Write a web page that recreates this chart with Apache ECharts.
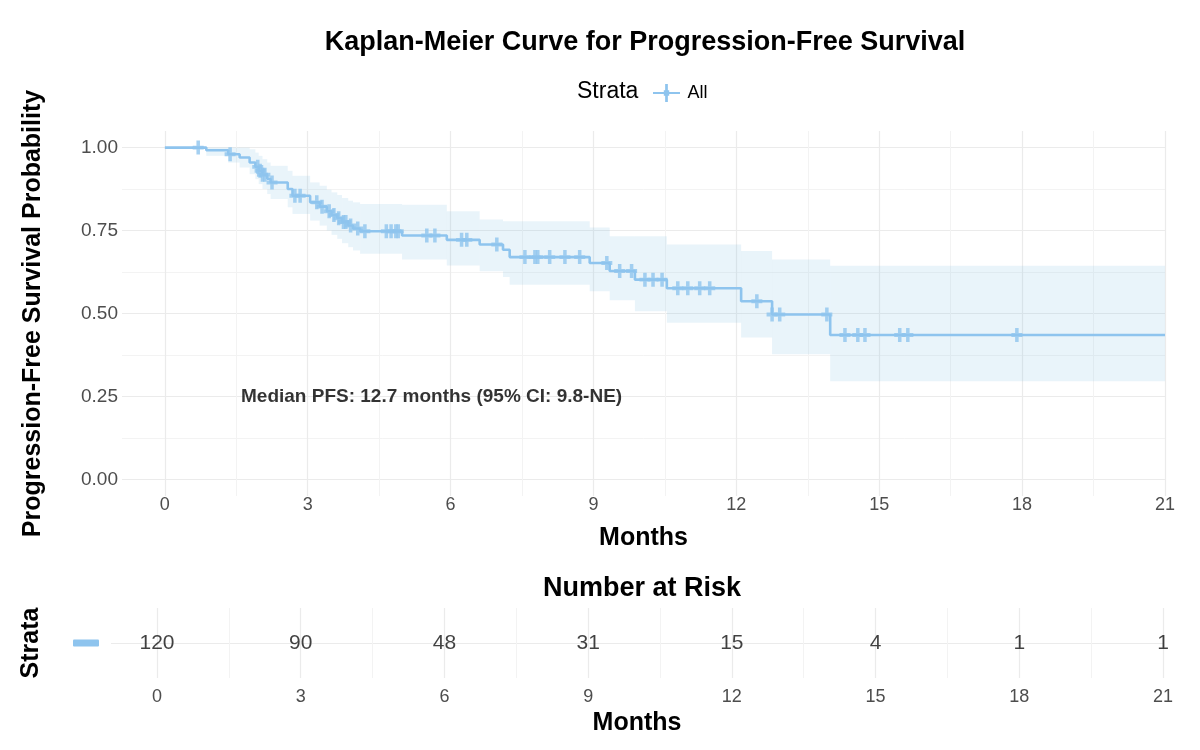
<!DOCTYPE html>
<html>
<head>
<meta charset="utf-8">
<title>Kaplan-Meier PFS</title>
<script src="https://cdn.jsdelivr.net/npm/echarts@6/dist/echarts.min.js"></script>
<style>
  html, body { margin: 0; padding: 0; background: #fff; }
  #chart { width: 1200px; height: 750px; }
</style>
</head>
<body>
<div id="chart"></div>
<script>
// KM step curve: time of each drop and the survival after it
const stepTimes = [0, 0.87, 1.33, 1.57, 1.78, 1.9, 1.97, 2.05, 2.15, 2.22, 2.58, 2.68, 3.05, 3.25, 3.4, 3.5, 3.62, 3.72, 3.85, 3.95, 4.1, 4.98, 5.92, 6.61, 7.1, 7.24, 8.92, 9.34, 9.87, 10.54, 12.1, 12.75, 13.97, 21]
const survival = [1.0, 0.992, 0.98, 0.97, 0.955, 0.942, 0.93, 0.918, 0.906, 0.895, 0.875, 0.855, 0.835, 0.822, 0.808, 0.797, 0.787, 0.776, 0.765, 0.756, 0.748, 0.735, 0.722, 0.708, 0.692, 0.67, 0.652, 0.628, 0.602, 0.576, 0.537, 0.497, 0.435, 0.435]
const upperCI = [1.0, 1.0, 1.0, 1.0, 0.995, 0.985, 0.975, 0.965, 0.955, 0.945, 0.93, 0.915, 0.895, 0.885, 0.873, 0.865, 0.857, 0.848, 0.84, 0.835, 0.83, 0.828, 0.808, 0.783, 0.778, 0.778, 0.759, 0.733, 0.733, 0.708, 0.688, 0.663, 0.644, 0.644]
const lowerCI = [1.0, 0.975, 0.955, 0.94, 0.92, 0.905, 0.89, 0.875, 0.86, 0.845, 0.82, 0.8, 0.78, 0.765, 0.75, 0.737, 0.725, 0.712, 0.7, 0.69, 0.68, 0.663, 0.645, 0.627, 0.61, 0.587, 0.567, 0.54, 0.507, 0.472, 0.428, 0.377, 0.296, 0.296]

// censored observations (months)
const censorTimes = [0.7, 1.37, 1.95, 2.0, 2.05, 2.1, 2.25, 2.73, 2.84, 3.19, 3.3, 3.45, 3.55, 3.65, 3.75, 3.8, 3.9, 4.05, 4.2, 4.65, 4.75, 4.85, 4.9, 5.5, 5.67, 6.23, 6.34, 6.97, 7.56, 7.77, 7.83, 8.08, 8.4, 8.71, 9.28, 9.55, 9.8, 10.08, 10.25, 10.44, 10.77, 10.98, 11.23, 11.44, 12.43, 12.75, 12.91, 13.9, 14.28, 14.55, 14.7, 15.43, 15.6, 17.89]

// number at risk table
const riskTimes = [0, 3, 6, 9, 12, 15, 18, 21]
const riskCounts = [120, 90, 48, 31, 15, 4, 1, 1]

// tick labels
const xTicks = [0, 3, 6, 9, 12, 15, 18, 21]
const xMinor = [1.5, 4.5, 7.5, 10.5, 13.5, 16.5, 19.5]
const yTicks = [0, 0.25, 0.5, 0.75, 1]
const yMinor = [0.125, 0.375, 0.625, 0.875]

const medianText = 'Median PFS: 12.7 months (95% CI: 9.8-NE)'
const medianPos = [5.6, 0.25]

const BLUE = '#8EC4EE'
const BAND = 'rgba(135, 195, 230, 0.18)'
const GRID = '#EBEBEB'
const MINOR = '#F3F3F3'
const FONT = '"Liberation Sans", Arial, sans-serif'
const PLUS = 'path://M3.4,0H6.6V3.6H10V6.4H6.6V10H3.4V6.4H0V3.6H3.4Z'

const survivalAt = (t) => {
  let s = survival[0]
  for (let i = 0; i < stepTimes.length; i++) {
    if (stepTimes[i] <= t) s = survival[i]
  }
  return s
}

// confidence band as one rectangle per step: [start, end, lower, upper]
const bandData = stepTimes.slice(0, -1).map((t, i) => [t, stepTimes[i + 1], lowerCI[i], upperCI[i]])

const chart = echarts.init(document.getElementById('chart'))

const xFmt = (v) => String(v)
const yFmt = (v) => v.toFixed(2)
const axisName = (size) => ({ fontSize: size, fontWeight: 'bold', color: '#000', fontFamily: FONT })

const option = {
  backgroundColor: '#fff',
  textStyle: { fontFamily: FONT },
  title: [
    {
      text: 'Kaplan-Meier Curve for Progression-Free Survival',
      left: 640, top: 24, textAlign: 'center',
      textStyle: axisName(27)
    },
    {
      text: 'Strata',
      left: 572, top: 75,
      textStyle: { fontSize: 23, fontWeight: 'normal', color: '#000', fontFamily: FONT }
    },
    {
      text: 'Number at Risk',
      left: 637, top: 570, textAlign: 'center',
      textStyle: axisName(27)
    }
  ],
  legend: {
    data: [{ name: 'All', icon: 'path://M0,9H12V7H13.5V0H16.5V7H18V9H30V11H18V13H16.5V20H13.5V13H12V11H0Z' }],
    left: 648, top: 79,
    itemWidth: 32, itemHeight: 18, itemGap: 6,
    textStyle: { fontSize: 18, color: '#000', fontFamily: FONT }
  },
  grid: [
    { left: 122, right: 35, top: 131, height: 365 },
    { left: 111, right: 37, top: 608, height: 70 }
  ],
  xAxis: [
    {
      type: 'value', gridIndex: 0, min: -0.9, max: 21,
      name: 'Months', nameLocation: 'middle', nameGap: 30,
      nameTextStyle: axisName(25),
      axisLine: { show: false },
      axisTick: { show: false, customValues: xTicks },
      axisLabel: { customValues: xTicks, formatter: xFmt, fontSize: 18, color: '#4D4D4D', margin: 0 },
      splitLine: { show: true, lineStyle: { color: GRID, width: 1.2 } }
    },
    {
      type: 'value', gridIndex: 0, min: -0.9, max: 21,
      axisLine: { show: false },
      axisTick: { show: false, customValues: xMinor },
      axisLabel: { show: false, customValues: xMinor },
      splitLine: { show: true, lineStyle: { color: MINOR, width: 1 } }
    },
    {
      type: 'value', gridIndex: 1, min: -0.96, max: 21,
      name: 'Months', nameLocation: 'middle', nameGap: 33,
      nameTextStyle: axisName(25),
      axisLine: { show: false },
      axisTick: { show: false, customValues: xTicks },
      axisLabel: { customValues: xTicks, formatter: xFmt, fontSize: 18, color: '#4D4D4D', margin: 10 },
      splitLine: { show: true, lineStyle: { color: GRID, width: 1.2 } }
    },
    {
      type: 'value', gridIndex: 1, min: -0.96, max: 21,
      axisLine: { show: false },
      axisTick: { show: false, customValues: xMinor },
      axisLabel: { show: false, customValues: xMinor },
      splitLine: { show: true, lineStyle: { color: MINOR, width: 1 } }
    }
  ],
  yAxis: [
    {
      type: 'value', gridIndex: 0, min: -0.05, max: 1.05,
      name: 'Progression-Free Survival Probability', nameLocation: 'middle', nameGap: 76,
      nameTextStyle: axisName(25),
      axisLine: { show: false },
      axisTick: { show: false, customValues: yTicks },
      axisLabel: { customValues: yTicks, formatter: yFmt, fontSize: 19, color: '#4D4D4D', margin: 4 },
      splitLine: { show: true, lineStyle: { color: GRID, width: 1.2 } }
    },
    {
      type: 'value', gridIndex: 0, min: -0.05, max: 1.05,
      axisLine: { show: false },
      axisTick: { show: false, customValues: yMinor },
      axisLabel: { show: false, customValues: yMinor },
      splitLine: { show: true, lineStyle: { color: MINOR, width: 1 } }
    },
    {
      type: 'value', gridIndex: 1, min: 0, max: 2,
      name: 'Strata', nameLocation: 'middle', nameGap: 67,
      nameTextStyle: axisName(25),
      axisLine: { show: false },
      axisTick: { show: false, customValues: [1] },
      axisLabel: {
        customValues: [1], margin: 12,
        formatter: () => '{box|}',
        rich: { box: { backgroundColor: BLUE, width: 26, height: 7, borderRadius: 1 } }
      },
      splitLine: { show: true, lineStyle: { color: GRID, width: 1.2 } }
    }
  ],
  series: [
    {
      name: 'ci', type: 'custom', xAxisIndex: 0, yAxisIndex: 0,
      silent: true, z: 1,
      encode: { x: [0, 1], y: [2, 3] },
      renderItem: (params, api) => {
        const a = api.coord([api.value(0), api.value(3)])
        const b = api.coord([api.value(1), api.value(2)])
        return {
          type: 'rect',
          shape: { x: a[0], y: a[1], width: b[0] - a[0], height: b[1] - a[1] },
          style: { fill: BAND }
        }
      },
      data: bandData
    },
    {
      name: 'All', type: 'line', xAxisIndex: 0, yAxisIndex: 0,
      step: 'end', symbol: 'none', z: 3,
      itemStyle: { color: BLUE },
      lineStyle: { color: BLUE, width: 2.6 },
      data: stepTimes.map((t, i) => [t, survival[i]])
    },
    {
      name: 'All', type: 'scatter', xAxisIndex: 0, yAxisIndex: 0,
      symbol: PLUS, symbolSize: [11, 14], z: 4,
      itemStyle: { color: BLUE },
      data: censorTimes.map(t => [t, survivalAt(t)])
    },
    {
      name: 'median', type: 'scatter', xAxisIndex: 0, yAxisIndex: 0,
      symbolSize: 0, silent: true, z: 5,
      label: {
        show: true, position: 'inside', formatter: medianText,
        fontSize: 19, fontWeight: 'bold', color: '#000', fontFamily: FONT
      },
      data: [medianPos]
    },
    {
      name: 'risk', type: 'scatter', xAxisIndex: 2, yAxisIndex: 2,
      symbolSize: 0, silent: true,
      label: {
        show: true, position: 'inside', formatter: p => String(p.value[2]),
        fontSize: 21, color: '#111', fontFamily: FONT
      },
      data: riskTimes.map((t, i) => [t, 1, riskCounts[i]])
    }
  ]
}

chart.setOption(option)
window.addEventListener('resize', () => chart.resize())
</script>
</body>
</html>
